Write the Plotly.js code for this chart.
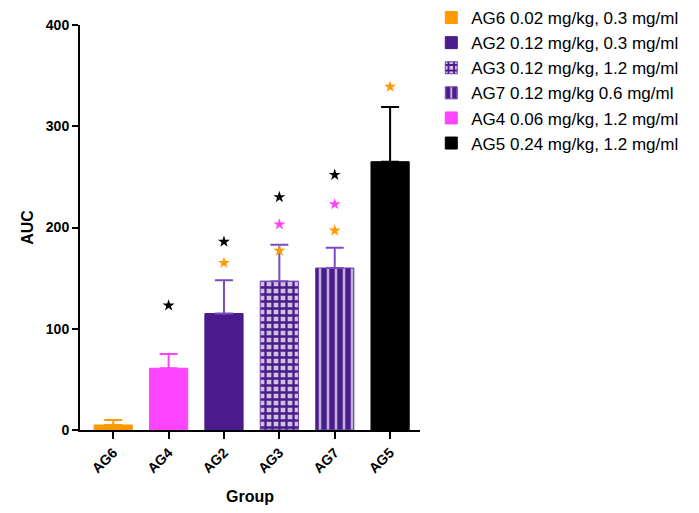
<!DOCTYPE html>
<html><head><meta charset="utf-8">
<script src="https://cdn.plot.ly/plotly-3.0.1.min.js"></script>
<style>body{margin:0;background:#fff}#c{width:699px;height:513px}</style>
</head><body><div id="c"></div>
<script>
// legend order
const groups = ["AG6","AG2","AG3","AG7","AG4","AG5"];
const legendNames = ["AG6 0.02 mg/kg, 0.3 mg/ml","AG2 0.12 mg/kg, 0.3 mg/ml","AG3 0.12 mg/kg, 1.2 mg/ml","AG7 0.12 mg/kg 0.6 mg/ml","AG4 0.06 mg/kg, 1.2 mg/ml","AG5 0.24 mg/kg, 1.2 mg/ml"];
const means = [5, 115, 147, 160, 61, 265];
const errs = [5, 33, 36, 20, 14, 54];
const xOrder = ["AG6","AG4","AG2","AG3","AG7","AG5"];
// significance stars
const starX = ["AG4","AG2","AG2","AG3","AG3","AG3","AG7","AG7","AG7","AG5"];
const starY = [123, 186, 165, 230, 203, 177, 252, 223, 197, 339];
const starC = ["#000","#000","#FF9900","#000","#FF44FF","#FF9900","#000","#FF44FF","#FF9900","#FF9900"];

const fills = ["#FF9900","#4B1A8C","#4B1A8C","#4B1A8C","#FF44FF","#000000"];
const errC = ["#FF9900","#7A4CC0","#7A4CC0","#7A4CC0","#FF44FF","#000000"];
const patterns = [null,null,
  {shape:"+",fgcolor:"#4B1A8C",bgcolor:"#CCC4DC",size:7,solidity:0.55,fillmode:"replace"},
  {shape:"|",fgcolor:"#4B1A8C",bgcolor:"#BDB3D3",size:8,solidity:0.68,fillmode:"replace"},
  null,null];

const traces = groups.map((g,i)=>{
  const m = {color: fills[i], line:{color: i===2||i===3 ? "#6A3DB0" : fills[i], width:1}};
  if (patterns[i]) m.pattern = patterns[i];
  return {type:"bar", x:[g], y:[means[i]], name:legendNames[i], legendgroup:g,
    marker:m, width:0.69,
    error_y:{type:"data", array:[errs[i]], arrayminus:[0], symmetric:false, color:errC[i], thickness:2, width:9}};
});
traces.push({type:"scatter", mode:"markers", x:starX, y:starY, showlegend:false,
  marker:{symbol:"star", size:9, color:starC, line:{width:0}}, hoverinfo:"skip"});

const layout = {
  width:699, height:513,
  margin:{l:80, r:279, t:25, b:83, autoexpand:false},
  paper_bgcolor:"#fff", plot_bgcolor:"#fff",
  barmode:"overlay",
  font:{family:"Liberation Sans, Arial, sans-serif", color:"#000"},
  xaxis:{type:"category", categoryorder:"array", categoryarray:xOrder, range:[-0.6,5.54],
    showline:true, linecolor:"#000", linewidth:2, ticks:"outside", ticklen:7, tickwidth:2, tickcolor:"#000",
    tickangle:-45, tickfont:{size:14, weight:"bold"},
    title:{text:"<b>Group</b>", font:{size:16}, standoff:16}, showgrid:false, zeroline:false, automargin:false},
  yaxis:{range:[0,400], tickvals:[0,100,200,300,400], showline:true, linecolor:"#000", linewidth:2,
    ticks:"outside", ticklen:6, tickwidth:2, tickcolor:"#000",
    tickfont:{size:14, weight:"bold"}, showgrid:false, zeroline:false,
    title:{text:"<b>AUC</b>", font:{size:16}, standoff:8}, automargin:false},
  legend:{xref:"container", yref:"container", x:0.617, y:1.0, xanchor:"left", yanchor:"top", font:{size:17}, tracegroupgap:0, itemwidth:30,
    bgcolor:"rgba(0,0,0,0)"},
  showlegend:true
};
Plotly.newPlot("c", traces, layout, {staticPlot:true, displayModeBar:false});
</script></body></html>
